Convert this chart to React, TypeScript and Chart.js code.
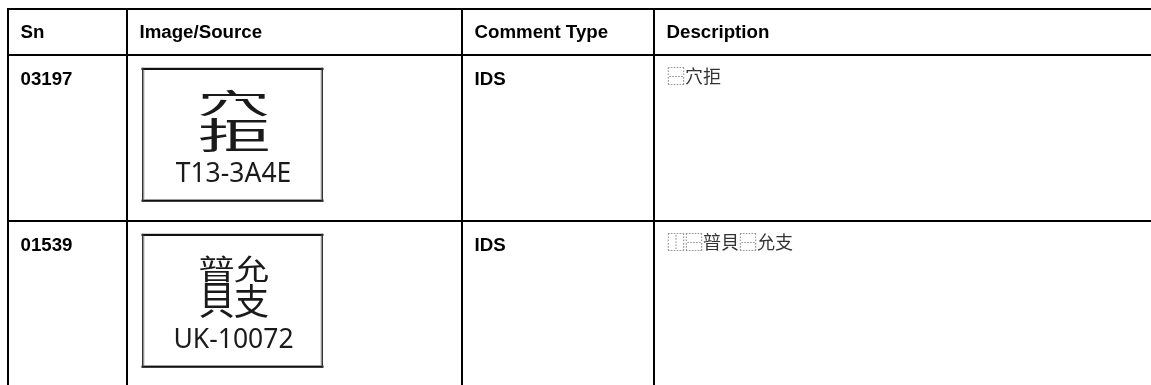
import React, { useEffect, useRef } from 'react';
import { Chart, registerables } from 'chart.js';

Chart.register(...registerables);

// ---- data ----
const columnHeaders = ['Sn', 'Image/Source', 'Comment Type', 'Description'];
const serialNumbers = ['03197', '01539'];
const sourceLabels = ['T13-3A4E', 'UK-10072'];
const commentTypes = ['IDS', 'IDS'];
const descriptions = ['⿱穴拒', '⿰⿱暜貝⿱允支'];

// ---- layout (pixels) ----
const TABLE_LEFT = 8;
const TABLE_TOP = 9;
const COLUMN_WIDTHS = [119, 335, 192, 600];
const ROW_HEIGHTS = [46, 166, 166];
const VIEW_W = 1151;
const VIEW_H = 385;

function edges(start: number, sizes: number[]) {
  const out = [start];
  sizes.forEach((s) => out.push(out[out.length - 1] + s));
  return out;
}
const colEdges = edges(TABLE_LEFT, COLUMN_WIDTHS);
const rowEdges = edges(TABLE_TOP, ROW_HEIGHTS);

const LATIN = '"Liberation Sans", Arial, Helvetica, sans-serif';
const CJK = '"Noto Sans CJK TC", "Noto Sans CJK SC", sans-serif';
const LABEL = '"Noto Sans", "Open Sans", sans-serif';

function fitGlyph(ctx: CanvasRenderingContext2D, ch: string, x: number, y: number, w: number, h: number) {
  ctx.save();
  ctx.font = `100px ${CJK}`;
  ctx.textAlign = 'left';
  ctx.textBaseline = 'alphabetic';
  const m = ctx.measureText(ch);
  const inkW = m.actualBoundingBoxLeft + m.actualBoundingBoxRight || 100;
  const inkH = m.actualBoundingBoxAscent + m.actualBoundingBoxDescent || 100;
  ctx.translate(x, y);
  ctx.scale(w / inkW, h / inkH);
  ctx.fillText(ch, m.actualBoundingBoxLeft, m.actualBoundingBoxAscent);
  ctx.restore();
}

function drawIds(ctx: CanvasRenderingContext2D, ids: string, x: number, y: number, w: number, h: number) {
  const chars = Array.from(ids);
  let pos = 0;
  const gap = 1.5;
  const parse = (px: number, py: number, pw: number, ph: number) => {
    const c = chars[pos++];
    if (c === undefined) return;
    if (c === '⿰') {
      const lw = (pw - gap) / 2;
      parse(px, py, lw, ph);
      parse(px + lw + gap, py, pw - lw - gap, ph);
    } else if (c === '⿱') {
      const th = (ph - gap) * 0.44;
      parse(px, py, pw, th);
      parse(px, py + th + gap, pw, ph - th - gap);
    } else {
      fitGlyph(ctx, c, px, py, pw, ph);
    }
  };
  parse(x, y, w, h);
}

const tablePlugin = {
  id: 'tableCells',
  afterDraw(chart: any) {
    const ctx: CanvasRenderingContext2D = chart.ctx;
    const xs = chart.scales.x;
    const ys = chart.scales.y;
    const colX = (i: number) => xs.getPixelForValue(colEdges[i]);
    const rowY = (i: number) => ys.getPixelForValue(rowEdges[i]);
    const pad = 12.5;

    ctx.save();
    ctx.textAlign = 'left';
    ctx.textBaseline = 'alphabetic';
    ctx.fillStyle = '#000';
    ctx.font = `bold 18.7px ${LATIN}`;
    columnHeaders.forEach((h, i) => {
      ctx.fillText(h, colX(i) + pad, rowY(0) + 29.3);
    });

    serialNumbers.forEach((sn, r) => {
      const top = rowY(r + 1);
      ctx.fillStyle = '#000';
      ctx.font = `bold 18.7px ${LATIN}`;
      ctx.textAlign = 'left';
      ctx.fillText(sn, colX(0) + pad, top + 30);
      ctx.fillText(commentTypes[r], colX(2) + pad, top + 30);

      ctx.fillStyle = '#333';
      ctx.font = `18px ${CJK}`;
      ctx.fillText(descriptions[r], colX(3) + pad + 0.5, top + 28);

      // source image box
      const bx = colX(1) + 15;
      const by = top + 12.8;
      const bw = 181;
      const bh = 134;
      ctx.fillStyle = '#fff';
      ctx.fillRect(bx, by, bw, bh);
      ctx.fillStyle = '#111';
      ctx.fillRect(bx - 0.5, by, bw + 1, 2.2);
      ctx.fillRect(bx - 0.5, by + bh - 2.2, bw + 1, 2.2);
      ctx.fillStyle = '#333';
      ctx.fillRect(bx, by, 1.6, bh);
      ctx.fillRect(bx + bw - 1.6, by, 1.6, bh);
      ctx.fillStyle = '#aaa';
      ctx.fillRect(bx + 1.6, by + 2, 0.8, bh - 4);
      ctx.fillRect(bx + bw - 2.4, by + 2, 0.8, bh - 4);

      ctx.fillStyle = '#1a1a1a';
      drawIds(ctx, descriptions[r], bx + 58, by + 22, 68, 62);

      ctx.font = `26.5px ${LABEL}`;
      ctx.textAlign = 'center';
      ctx.fillText(sourceLabels[r], bx + bw / 2 + 1, by + 114);
    });
    ctx.restore();
  },
};

export default function App() {
  const ref = useRef<HTMLCanvasElement>(null);
  useEffect(() => {
    if (!ref.current) return;
    const gridOpts = {
      color: '#000',
      lineWidth: 2,
      drawTicks: false,
    };
    const chart = new Chart(ref.current, {
      type: 'scatter',
      data: { datasets: [] },
      options: {
        animation: false,
        responsive: true,
        maintainAspectRatio: false,
        layout: { padding: { left: 7, top: 8, right: 0, bottom: 0 } },
        plugins: { legend: { display: false }, tooltip: { enabled: false } },
        events: [],
        scales: {
          x: {
            type: 'linear',
            min: 7,
            max: VIEW_W,
            grid: gridOpts,
            border: { display: false },
            ticks: { display: false },
            afterBuildTicks: (axis: any) => {
              axis.ticks = colEdges.filter((v) => v >= 7 && v <= VIEW_W).map((v) => ({ value: v }));
            },
          },
          y: {
            type: 'linear',
            reverse: true,
            min: 8,
            max: VIEW_H,
            grid: gridOpts,
            border: { display: false },
            ticks: { display: false },
            afterBuildTicks: (axis: any) => {
              axis.ticks = rowEdges.filter((v) => v >= 8 && v <= VIEW_H).map((v) => ({ value: v }));
            },
          },
        },
      } as any,
      plugins: [tablePlugin],
    });
    return () => chart.destroy();
  }, []);
  return (
    <div style={{ position: 'fixed', left: 0, top: 0, width: VIEW_W, height: VIEW_H, background: '#fff' }}>
      <canvas ref={ref} />
    </div>
  );
}
